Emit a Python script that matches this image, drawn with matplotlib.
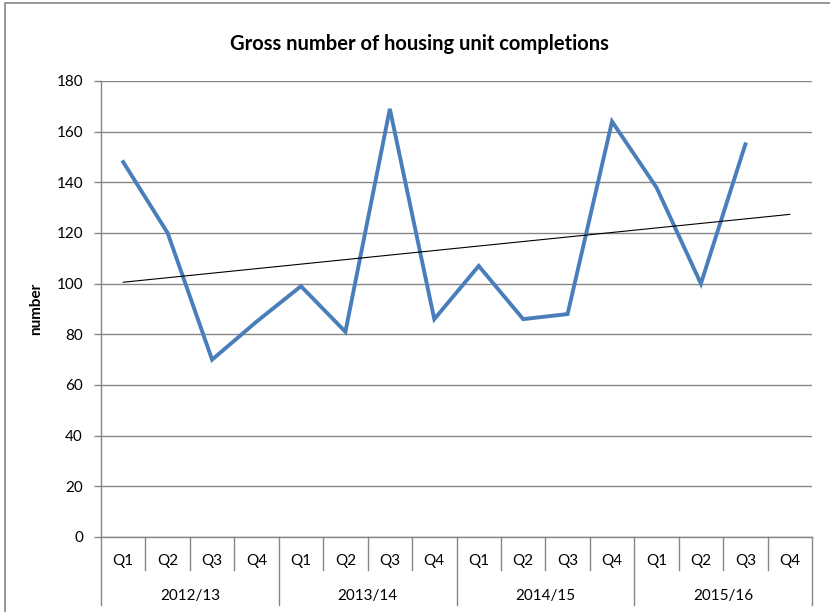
import matplotlib
matplotlib.use("Agg")
import matplotlib.pyplot as plt
import numpy as np
from matplotlib.lines import Line2D

plt.rcParams['font.family'] = ['Lato', 'DejaVu Sans']

quarters = ["Q1", "Q2", "Q3", "Q4"] * 4
years = ["2012/13", "2013/14", "2014/15", "2015/16"]
completions = [148, 120, 70, 85, 99, 81, 169, 86, 107, 86, 88, 164, 138, 100, 155, np.nan]
y_ticks = list(range(0, 181, 20))

W, H = 830, 612
fig = plt.figure(figsize=(W / 100, H / 100), dpi=100)
L, R, T, B = 101, 812, 81, 537
ax = fig.add_axes([L / W, 1 - B / H, (R - L) / W, (B - T) / H])

x = np.arange(len(quarters))
vals = np.array(completions, dtype=float)
ax.plot(x, vals, color="#4A7EBB", lw=2.8, solid_joinstyle="miter", zorder=3)

# linear trendline (Excel-style) over available points
mask = ~np.isnan(vals)
coef = np.polyfit(x[mask] + 1, vals[mask], 1)
ax.plot(x, np.polyval(coef, x + 1), color="black", lw=0.8, zorder=4)

ax.set_xlim(-0.5, len(quarters) - 0.5)
ax.set_ylim(0, 180)
ax.set_yticks(y_ticks)
ax.set_yticklabels([str(v) for v in y_ticks], fontsize=11)
ax.yaxis.grid(True, color="#868686", lw=1.0)
ax.set_axisbelow(True)
ax.tick_params(axis="y", length=5, width=1, color="#868686", pad=8)
ax.set_xticks([])
for s in ["top", "right"]:
    ax.spines[s].set_visible(False)
for s in ["left", "bottom"]:
    ax.spines[s].set_color("#868686")
    ax.spines[s].set_linewidth(1.0)

xt = ax.get_xaxis_transform()
q_y = -(561 - B) / (B - T)
yr_y = -(596 - B) / (B - T)
short = -(570 - B) / (B - T)
long_ = -(605 - B) / (B - T)
for i, q in enumerate(quarters):
    ax.text(i, q_y, q, transform=xt, ha="center", va="center", fontsize=11)
for k, yr in enumerate(years):
    ax.text(4 * k + 1.5, yr_y, yr, transform=xt, ha="center", va="center", fontsize=11)
for i in range(len(quarters) + 1):
    bottom = long_ if i % 4 == 0 else short
    ax.add_line(Line2D([i - 0.5, i - 0.5], [0, bottom], transform=xt, color="#868686",
                       lw=1.0, clip_on=False))

ax.set_ylabel("number", fontsize=11, fontweight="bold", labelpad=10)
ax.yaxis.set_label_coords(-(L - 43) / (R - L), 0.5)

fig.text((231 + 607) / 2 / W, 1 - 44 / H, "Gross number of housing unit completions",
         ha="center", va="center", fontsize=14.5, fontweight="bold")

# chart area border
fig.add_artist(Line2D([5 / W, 5 / W, 1.0], [0.0, 1 - 3 / H, 1 - 3 / H],
                      transform=fig.transFigure, color="#868686", lw=1.2))

fig.savefig("out.png", dpi=100)
